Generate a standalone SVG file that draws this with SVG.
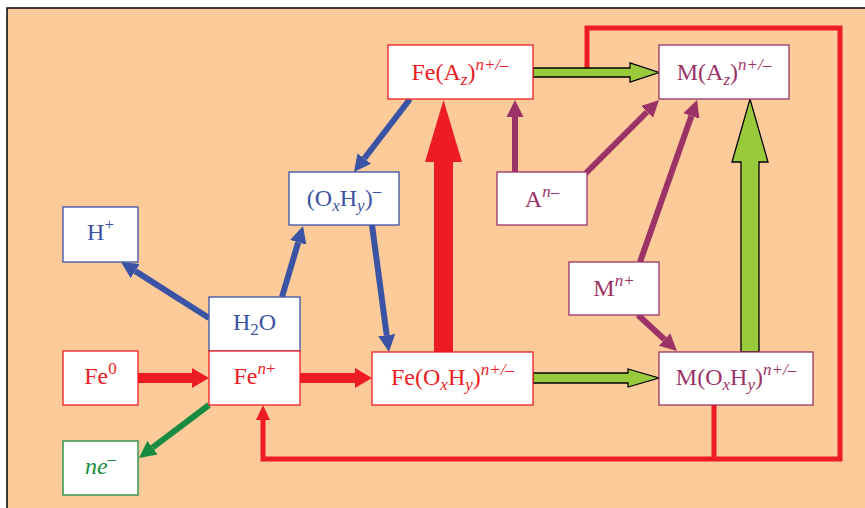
<svg xmlns="http://www.w3.org/2000/svg" width="865" height="508" viewBox="0 0 865 508">
<style>
.box{fill:#fff;stroke-width:1.3}
.rb{stroke:#ED1C24}.bb{stroke:#3A53A4}.mb{stroke:#9B3367}.gb{stroke:#168B41}
text{font-family:"Liberation Serif","Times New Roman",serif;font-size:24px;text-anchor:middle}
.rt{fill:#ED1C24}.bt{fill:#3A53A4}.mt{fill:#9B3367}.gt{fill:#168B41}
.s{font-size:17px}.i{font-style:italic}
.lb{stroke:#3A53A4;stroke-width:6;fill:none;marker-end:url(#hb)}
.lm{stroke:#9B3367;stroke-width:6;fill:none;marker-end:url(#hm)}
.lg{stroke:#168B41;stroke-width:6;fill:none;marker-end:url(#hg)}
.red{fill:#ED1C24}
.grn{fill:#99CA3C;stroke:#000;stroke-width:1.3;stroke-linejoin:miter}
.loop{stroke:#ED1C24;stroke-width:5;fill:none}
</style>
<defs>
<marker id="hb" markerUnits="userSpaceOnUse" markerWidth="18" markerHeight="18" refX="0" refY="8.5" orient="auto"><path d="M0,0 L17,8.5 L0,17 Z" fill="#3A53A4"/></marker>
<marker id="hm" markerUnits="userSpaceOnUse" markerWidth="18" markerHeight="18" refX="0" refY="8.5" orient="auto"><path d="M0,0 L17,8.5 L0,17 Z" fill="#9B3367"/></marker>
<marker id="hg" markerUnits="userSpaceOnUse" markerWidth="18" markerHeight="18" refX="0" refY="8.5" orient="auto"><path d="M0,0 L17,8.5 L0,17 Z" fill="#168B41"/></marker>
</defs>
<rect x="7" y="8" width="870" height="520" fill="#FDCB9A" stroke="#000" stroke-width="1.5"/>
<g id="connectors">
<path class="loop" d="M587,68 V28 H840 V459 H263 V419"/>
<path class="loop" d="M714,405 V459"/>
<path class="red" d="M256,420 L263,405 L270,420 Z"/>
<line class="lb" x1="209" y1="318" x2="135.3" y2="271.1"/>
<line class="lb" x1="282" y1="297" x2="298.2" y2="242.3"/>
<line class="lb" x1="410" y1="99" x2="364.3" y2="158.5"/>
<line class="lb" x1="372" y1="225" x2="386.7" y2="335.2"/>
<line class="lm" x1="515" y1="172" x2="515" y2="117"/>
<line class="lm" x1="585" y1="174" x2="647" y2="112"/>
<line class="lm" x1="640" y1="262" x2="691.4" y2="116"/>
<line class="lm" x1="638" y1="315" x2="664.5" y2="339.5"/>
<line class="lg" x1="209" y1="405" x2="152.5" y2="447.7"/>
<path class="red" d="M138,373 H192 V368 L209,378 L192,388 V383 H138 Z"/>
<path class="red" d="M300,373 H355 V368 L372,378 L355,388 V383 H300 Z"/>
<path class="red" d="M434,352 V162 H425 L443.5,100 L462,162 H453 V352 Z"/>
<path class="grn" d="M533,68 H630 V63 L659,72.5 L630,82 V77 H533 Z"/>
<path class="grn" d="M533,373 H628 V369 L659,378 L628,387 V383 H533 Z"/>
<path class="grn" d="M741,352 V162 H732 L750,99 L768,162 H759 V352 Z"/>
</g>
<g id="FeAz"><rect class="box rb" x="388" y="45" width="145" height="54"/>
<text class="rt" x="460" y="80">Fe(A<tspan class="s i" dy="5">z</tspan><tspan dy="-5">)</tspan><tspan class="s i" dy="-10">n+/–</tspan></text></g>
<g id="MAz"><rect class="box mb" x="659" y="45" width="130" height="54"/>
<text class="mt" x="724" y="80">M(A<tspan class="s i" dy="5">z</tspan><tspan dy="-5">)</tspan><tspan class="s i" dy="-10">n+/–</tspan></text></g>
<g id="OxHy"><rect class="box bb" x="289" y="172" width="110" height="53"/>
<text class="bt" x="344" y="206">(O<tspan class="s i" dy="5">x</tspan><tspan dy="-5">H</tspan><tspan class="s i" dy="5">y</tspan><tspan dy="-5">)</tspan><tspan class="s" dy="-10">–</tspan></text></g>
<g id="An"><rect class="box mb" x="497" y="172" width="90" height="53"/>
<text class="mt" x="542" y="207">A<tspan class="s i" dy="-10">n–</tspan></text></g>
<g id="Hplus"><rect class="box bb" x="63" y="207" width="75" height="55"/>
<text class="bt" x="100.5" y="240">H<tspan class="s" dy="-10">+</tspan></text></g>
<g id="H2O"><rect class="box bb" x="209" y="297" width="91" height="54"/>
<text class="bt" x="254.5" y="330">H<tspan class="s" dy="5">2</tspan><tspan dy="-5">O</tspan></text></g>
<g id="Fe0"><rect class="box rb" x="63" y="351" width="75" height="54"/>
<text class="rt" x="100.5" y="384">Fe<tspan class="s" dy="-10">0</tspan></text></g>
<g id="Fen"><rect class="box rb" x="209" y="351" width="91" height="54"/>
<text class="rt" x="254.5" y="384">Fe<tspan class="s i" dy="-10">n</tspan><tspan class="s">+</tspan></text></g>
<g id="FeOxHy"><rect class="box rb" x="372" y="352" width="161" height="53"/>
<text class="rt" x="452.5" y="385">Fe(O<tspan class="s i" dy="5">x</tspan><tspan dy="-5">H</tspan><tspan class="s i" dy="5">y</tspan><tspan dy="-5">)</tspan><tspan class="s i" dy="-10">n+/–</tspan></text></g>
<g id="MOxHy"><rect class="box mb" x="659" y="352" width="154" height="53"/>
<text class="mt" x="736" y="385">M(O<tspan class="s i" dy="5">x</tspan><tspan dy="-5">H</tspan><tspan class="s i" dy="5">y</tspan><tspan dy="-5">)</tspan><tspan class="s i" dy="-10">n+/–</tspan></text></g>
<g id="Mn"><rect class="box mb" x="569" y="262" width="90" height="53"/>
<text class="mt" x="614" y="296">M<tspan class="s i" dy="-10">n+</tspan></text></g>
<g id="ne"><rect class="box gb" x="63" y="441" width="75" height="54"/>
<text class="gt" x="100.5" y="474"><tspan class="i">ne</tspan><tspan class="s" dy="-10">–</tspan></text></g>
</svg>
